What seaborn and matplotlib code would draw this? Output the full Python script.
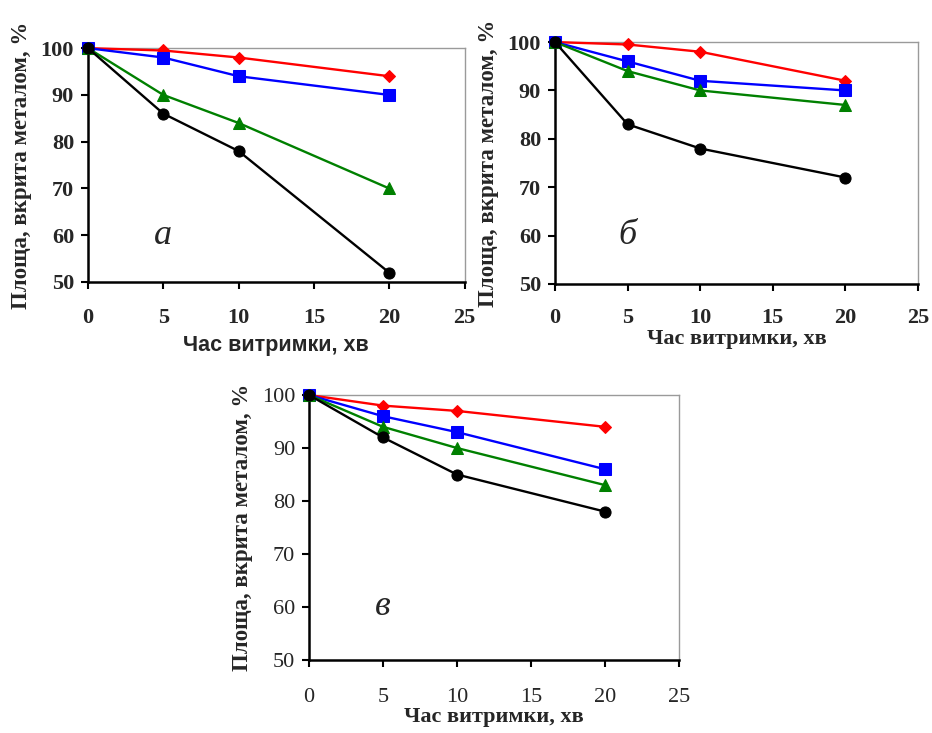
import matplotlib
matplotlib.use("Agg")
import matplotlib.pyplot as plt
import seaborn as sns
import pandas as pd

# --- data ---
time_min = [0, 5, 10, 20]

a_red = [100, 99.5, 98, 94]
a_blue = [100, 98, 94, 90]
a_green = [100, 90, 84, 70]
a_black = [100, 86, 78, 52]

b_red = [100, 99.5, 98, 92]
b_blue = [100, 96, 92, 90]
b_green = [100, 94, 90, 87]
b_black = [100, 83, 78, 72]

v_red = [100, 98, 97, 94]
v_blue = [100, 96, 93, 86]
v_green = [100, 94, 90, 83]
v_black = [100, 92, 85, 78]

panel_letters = ["а", "б", "в"]
y_label = "Площа, вкрита металом, %"
x_label = "Час витримки, хв"

SERIES = ["red", "blue", "green", "black"]
COLORS = {"red": "#FF0000", "blue": "#0000FF", "green": "#008000", "black": "#000000"}
MARKERS = {"red": "D", "blue": "s", "green": "^", "black": "o"}
MSIZE = {"red": 6, "blue": 8.5, "green": 8.5, "black": 8}

sns.set_theme(style="white")
plt.rcParams["font.family"] = ["Liberation Serif", "DejaVu Serif"]


def make_df(red, blue, green, black):
    rows = []
    for name, vals in zip(SERIES, [red, blue, green, black]):
        for t, v in zip(time_min, vals):
            rows.append({"t": t, "v": v, "s": name})
    return pd.DataFrame(rows)


fig = plt.figure(figsize=(9.32, 7.33), dpi=100)
fig.patch.set_facecolor("white")

boxes = [
    [0.0944, 0.6153, 0.404, 0.319],
    [0.5955, 0.6126, 0.3895, 0.330],
    [0.3315, 0.0996, 0.397, 0.3615],
]
datasets = [
    make_df(a_red, a_blue, a_green, a_black),
    make_df(b_red, b_blue, b_green, b_black),
    make_df(v_red, v_blue, v_green, v_black),
]
x_pads = [14, 12, 15]
x_labelpads = [5, 1, 0]

for i, (box, df) in enumerate(zip(boxes, datasets)):
    ax = fig.add_axes(box)
    for name in SERIES:
        sub = df[df["s"] == name]
        sns.lineplot(data=sub, x="t", y="v", ax=ax, color=COLORS[name],
                     marker=MARKERS[name], markersize=MSIZE[name],
                     markeredgecolor=COLORS[name], linewidth=1.7,
                     legend=False, zorder=3, clip_on=False)
    ax.set_xlim(0, 25)
    ax.set_ylim(50, 100)
    ax.set_xticks(range(0, 26, 5))
    ax.set_yticks(range(50, 101, 10))

    tick_weight = "normal" if i == 2 else "bold"
    for lab in ax.get_xticklabels() + ax.get_yticklabels():
        lab.set_fontweight(tick_weight)
        lab.set_fontsize(16)

    ax.tick_params(axis="x", direction="out", length=5, width=1.5,
                   color="black", bottom=True, pad=x_pads[i])
    ax.tick_params(axis="y", direction="out", length=5, width=1.5,
                   color="black", left=True, pad=5)
    for side in ["left", "bottom"]:
        ax.spines[side].set_color("black")
        ax.spines[side].set_linewidth(1.8)
    for side in ["top", "right"]:
        ax.spines[side].set_color("#9A9A9A")
        ax.spines[side].set_linewidth(1.0)

    ax.set_ylabel(y_label, fontsize=16.5, fontweight="bold", labelpad=6)
    if i == 0:
        ax.set_xlabel(x_label, fontsize=15.5, fontweight="bold",
                      family=["Liberation Sans", "DejaVu Sans"],
                      labelpad=x_labelpads[i])
    else:
        ax.set_xlabel(x_label, fontsize=16, fontweight="bold",
                      labelpad=x_labelpads[i])

    ax.text(5, 60, panel_letters[i], fontsize=26, style="italic",
            ha="center", va="center")

fig.savefig("out.png", dpi=100, facecolor="white")
